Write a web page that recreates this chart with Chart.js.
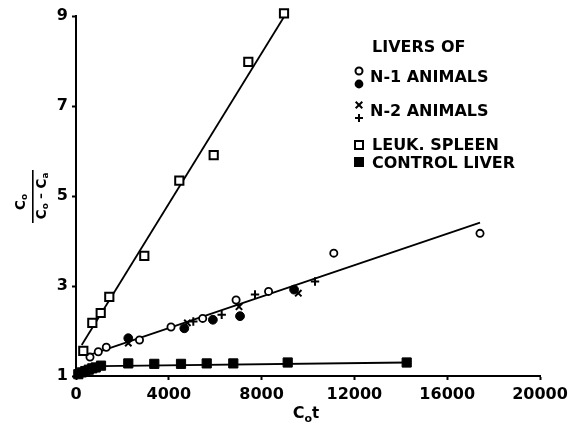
<!DOCTYPE html>
<html>
<head>
<meta charset="utf-8">
<script src="https://cdn.jsdelivr.net/npm/chart.js@4/dist/chart.umd.min.js"></script>
<style>
  html, body { margin: 0; padding: 0; background: #fff; }
  #wrap { width: 581px; height: 427px; position: relative; }
</style>
</head>
<body>
<div id="wrap"><canvas id="c" width="581" height="427"></canvas></div>
<script>
// ---- data ----
const xTicks = [0, 4000, 8000, 12000, 16000, 20000];
const yTicks = [1, 3, 5, 7, 9];

const spleenX = [315, 703, 1065, 1435, 2944, 4453, 5935, 7427, 8966];
const spleenY = [1.56, 2.18, 2.40, 2.76, 3.67, 5.34, 5.91, 7.98, 9.06];

const n1OpenX = [603, 961, 1306, 2737, 4095, 5461, 6900, 8300, 11112, 17414];
const n1OpenY = [1.42, 1.54, 1.64, 1.80, 2.09, 2.28, 2.69, 2.88, 3.73, 4.17];

const n1FilledX = [2254, 4668, 5900, 7070, 9400];
const n1FilledY = [1.84, 2.06, 2.25, 2.33, 2.92];

const n2XMarkX = [2254, 4800, 7026, 9582];
const n2XMarkY = [1.73, 2.18, 2.54, 2.84];

const n2PlusX = [5056, 6280, 7716, 10302];
const n2PlusY = [2.21, 2.36, 2.81, 3.10];

const controlX = [100, 250, 400, 550, 700, 850, 1078, 2254, 3375, 4526, 5634, 6780, 9125, 14254];
const controlY = [1.04, 1.08, 1.11, 1.14, 1.17, 1.19, 1.23, 1.28, 1.27, 1.27, 1.28, 1.28, 1.30, 1.30];

const spleenLineX = [246, 9095];
const spleenLineY = [1.69, 9.09];
const liverLineX = [431, 17414];
const liverLineY = [1.44, 4.41];
const controlLineX = [0, 1078, 14254];
const controlLineY = [1.06, 1.22, 1.30];

const legendTitle = 'LIVERS OF';
const legendLabels = ['N-1 ANIMALS', 'N-2 ANIMALS', 'LEUK. SPLEEN', 'CONTROL LIVER'];
const xTitle = ['C', 'o', 't'];

// ---- helpers ----
const pts = (xs, ys) => xs.map((x, i) => ({ x: x, y: ys[i] }));
const FONT = "'DejaVu Sans', sans-serif";

function markerSet(label, xs, ys, style, radius, fill, bw) {
  return {
    label: label, data: pts(xs, ys), showLine: false,
    pointStyle: style, pointRadius: radius, pointHoverRadius: radius,
    pointBackgroundColor: fill, pointBorderColor: '#000', pointBorderWidth: bw,
    clip: false, order: 0
  };
}
function lineSet(label, xs, ys) {
  return {
    label: label, data: pts(xs, ys), showLine: true, borderColor: '#000',
    borderWidth: 1.8, pointRadius: 0, fill: false, clip: false, order: 1
  };
}

function drawMarker(ctx, kind, x, y) {
  ctx.save();
  ctx.strokeStyle = '#000'; ctx.fillStyle = '#000'; ctx.lineWidth = 2;
  if (kind === 'openCircle') {
    ctx.beginPath(); ctx.arc(x, y, 3.5, 0, Math.PI * 2); ctx.fillStyle = '#fff'; ctx.fill(); ctx.stroke();
  } else if (kind === 'filledCircle') {
    ctx.beginPath(); ctx.arc(x, y, 4.4, 0, Math.PI * 2); ctx.fill();
  } else if (kind === 'x') {
    ctx.beginPath(); ctx.moveTo(x - 3.3, y - 3.3); ctx.lineTo(x + 3.3, y + 3.3);
    ctx.moveTo(x + 3.3, y - 3.3); ctx.lineTo(x - 3.3, y + 3.3); ctx.stroke();
  } else if (kind === 'plus') {
    ctx.beginPath(); ctx.moveTo(x - 4, y); ctx.lineTo(x + 4, y);
    ctx.moveTo(x, y - 4); ctx.lineTo(x, y + 4); ctx.stroke();
  } else if (kind === 'openSquare') {
    ctx.fillStyle = '#fff'; ctx.fillRect(x - 4, y - 4, 8, 8); ctx.strokeRect(x - 4, y - 4, 8, 8);
  } else if (kind === 'filledSquare') {
    ctx.fillRect(x - 5, y - 5, 10, 10);
  }
  ctx.restore();
}

// draw a run of [text, sizePx, dy] segments centered at (cx, cy)
function drawRun(ctx, segs, cx, cy) {
  let total = 0;
  const widths = segs.map(s => { ctx.font = 'bold ' + s[1] + 'px ' + FONT; const w = ctx.measureText(s[0]).width; total += w; return w; });
  let x = cx - total / 2;
  ctx.textBaseline = 'middle'; ctx.textAlign = 'left';
  segs.forEach((s, i) => {
    ctx.font = 'bold ' + s[1] + 'px ' + FONT;
    ctx.fillText(s[0], x, cy + s[2]);
    x += widths[i];
  });
  return total;
}

const decor = {
  id: 'decor',
  afterDraw(chart) {
    const ctx = chart.ctx;
    ctx.save();
    ctx.fillStyle = '#000';
    // x axis title: C0t
    drawRun(ctx, [[xTitle[0], 16, 0], [xTitle[1], 11, 5], [xTitle[2], 15, 0]], 306, 414);

    // y axis title: fraction C0 / (C0 - Ca), rotated
    ctx.save();
    ctx.translate(33, 198);
    ctx.rotate(-Math.PI / 2);
    drawRun(ctx, [['C', 14, 0], ['o', 9, 4]], -4, -12);
    drawRun(ctx, [['C', 14, 0], ['o', 9, 4], [' \u2013 ', 12, 0], ['C', 14, 0], ['a', 9, 4]], 2, 9);
    ctx.fillRect(-25, -1, 53, 1.6);
    ctx.restore();

    // legend
    ctx.font = 'bold 16px ' + FONT;
    ctx.textBaseline = 'middle'; ctx.textAlign = 'left';
    ctx.fillText(legendTitle, 372, 48);
    ctx.fillText(legendLabels[0], 370, 78);
    ctx.fillText(legendLabels[1], 370, 112);
    ctx.fillText(legendLabels[2], 372, 146);
    ctx.fillText(legendLabels[3], 372, 164);
    drawMarker(ctx, 'openCircle', 359, 71);
    drawMarker(ctx, 'filledCircle', 359, 84);
    drawMarker(ctx, 'x', 359, 105);
    drawMarker(ctx, 'plus', 359, 118);
    drawMarker(ctx, 'openSquare', 359, 145);
    drawMarker(ctx, 'filledSquare', 359, 162);
    ctx.restore();
  }
};

new Chart(document.getElementById('c'), {
  type: 'scatter',
  data: {
    datasets: [
      markerSet('Leuk. spleen', spleenX, spleenY, 'rect', 5.8, '#fff', 2),
      markerSet('N-1 open', n1OpenX, n1OpenY, 'circle', 3.6, '#fff', 1.8),
      markerSet('N-1 filled', n1FilledX, n1FilledY, 'circle', 4.4, '#000', 1),
      markerSet('N-2 x', n2XMarkX, n2XMarkY, 'crossRot', 4.5, '#000', 2),
      markerSet('N-2 +', n2PlusX, n2PlusY, 'cross', 4.2, '#000', 2),
      markerSet('Control liver', controlX, controlY, 'rect', 6.5, '#000', 1),
      lineSet('Spleen fit', spleenLineX, spleenLineY),
      lineSet('Liver fit', liverLineX, liverLineY),
      lineSet('Control fit', controlLineX, controlLineY)
    ]
  },
  options: {
    responsive: false,
    animation: false,
    events: [],
    layout: { padding: { left: 0, top: 16, right: 41, bottom: 0 } },
    plugins: { legend: { display: false }, tooltip: { enabled: false } },
    scales: {
      x: {
        type: 'linear', min: 0, max: 20000,
        afterBuildTicks: s => { s.ticks = xTicks.map(v => ({ value: v })); },
        afterFit: s => { s.height = 51; },
        border: { display: true, color: '#000', width: 2 },
        grid: { display: true, drawOnChartArea: false, drawTicks: true, tickLength: 4, tickColor: '#000', tickWidth: 2 },
        ticks: { color: '#000', font: { family: FONT, size: 16, weight: 'bold' }, padding: 5, maxRotation: 0, autoSkip: false,
                 callback: v => String(v) }
      },
      y: {
        type: 'linear', min: 1, max: 9,
        afterBuildTicks: s => { s.ticks = yTicks.map(v => ({ value: v })); },
        afterFit: s => { s.width = 76; },
        border: { display: true, color: '#000', width: 2 },
        grid: { display: true, drawOnChartArea: false, drawTicks: true, tickLength: 4, tickColor: '#000', tickWidth: 2 },
        ticks: { color: '#000', font: { family: FONT, size: 16, weight: 'bold' }, padding: 4, autoSkip: false,
                 callback: v => String(v) }
      }
    }
  },
  plugins: [decor]
});
</script>
</body>
</html>
